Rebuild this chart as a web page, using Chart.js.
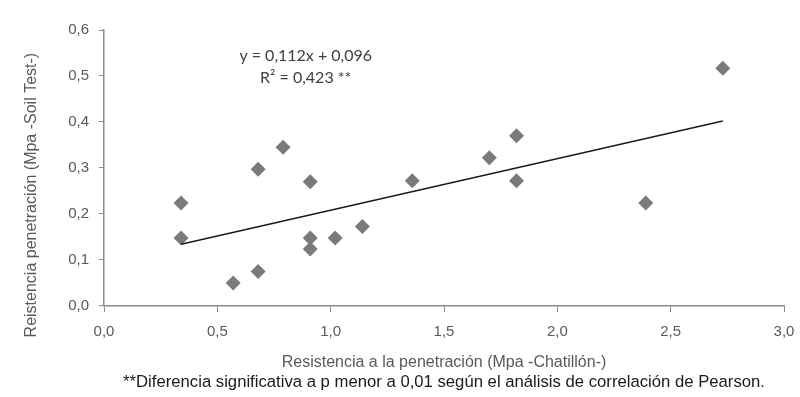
<!DOCTYPE html>
<html>
<head>
<meta charset="utf-8">
<script src="https://cdn.jsdelivr.net/npm/chart.js@4.4.1/dist/chart.umd.min.js"></script>
<style>
  html, body { margin: 0; padding: 0; background: #ffffff; }
  #wrap { width: 800px; height: 397px; }
</style>
</head>
<body>
<div id="wrap"><canvas id="chart" width="800" height="397"></canvas></div>
<script>
// values
var chatillon = [0.34, 0.34, 0.57, 0.68, 0.68, 0.79, 0.91, 0.91, 0.91, 1.02, 1.14, 1.36, 1.70, 1.82, 1.82, 2.39, 2.73];
var soilTest  = [0.224, 0.148, 0.050, 0.075, 0.297, 0.345, 0.270, 0.148, 0.124, 0.148, 0.173, 0.272, 0.322, 0.370, 0.272, 0.224, 0.517];
var trendX = [0.34, 2.73];
var trendY = [0.134, 0.402];
var equationLines = ['y = 0,112x + 0,096', 'R\u00B2 = 0,423 **'];
var xTitle = 'Resistencia a la penetración (Mpa -Chatillón-)';
var yTitle = 'Reistencia penetración (Mpa -Soil Test-)';
var footnote = '**Diferencia significativa a p menor a 0,01 según el análisis de correlación de Pearson.';

function toPoints(xs, ys) {
    return xs.map(function(x, i) { return { x: x, y: ys[i] }; });
}

function commaFormat(value) {
    return Number(value).toFixed(1).replace('.', ',');
}

var axisGray = '#8c8c8c';
var textGray = '#595959';
var arial = '"Liberation Sans", Arial, sans-serif';

// regression equation inside the plot (data units) and the y title,
// which sits a little below the middle of the plot in the original
var textPlugin = {
    id: 'extraText',
    afterDatasetsDraw: function(chart) {
        var ctx = chart.ctx;
        var xs = chart.scales.x;
        var ys = chart.scales.y;
        var cx = xs.getPixelForValue(0.89);
        ctx.save();
        ctx.fillStyle = '#404040';
        ctx.font = '16px Lato, "Open Sans", sans-serif';
        ctx.textAlign = 'center';
        ctx.textBaseline = 'middle';
        ctx.fillText(equationLines[0], cx, ys.getPixelForValue(0.543));
        ctx.fillText(equationLines[1], cx, ys.getPixelForValue(0.495));

        ctx.translate(32, ys.getPixelForValue(0.241));
        ctx.rotate(-Math.PI / 2);
        ctx.fillStyle = textGray;
        ctx.font = '16px ' + arial;
        ctx.fillText(yTitle, 0, 0);
        ctx.restore();
    }
};

var ctx = document.getElementById('chart').getContext('2d');
new Chart(ctx, {
    type: 'scatter',
    data: {
        datasets: [
            {
                label: 'Datos',
                data: toPoints(chatillon, soilTest),
                pointStyle: 'rectRot',
                pointRadius: 7.5,
                pointHoverRadius: 7.5,
                backgroundColor: '#7a7a7a',
                borderColor: '#7a7a7a',
                borderWidth: 0,
                order: 2
            },
            {
                label: 'Lineal',
                type: 'line',
                data: toPoints(trendX, trendY),
                borderColor: '#1a1a1a',
                borderWidth: 1.5,
                pointRadius: 0,
                fill: false,
                order: 1
            }
        ]
    },
    options: {
        responsive: false,
        animation: false,
        layout: { padding: { top: 30, right: 16, left: 24, bottom: 2 } },
        plugins: {
            legend: { display: false },
            tooltip: { enabled: false },
            subtitle: {
                display: true,
                text: footnote,
                position: 'bottom',
                fullSize: false,
                color: '#1a1a1a',
                font: { family: arial, size: 16.7 },
                padding: { top: 0, bottom: 3 }
            }
        },
        scales: {
            x: {
                type: 'linear',
                min: 0,
                max: 3,
                ticks: {
                    stepSize: 0.5,
                    padding: 11,
                    color: textGray,
                    font: { family: arial, size: 15 },
                    callback: commaFormat
                },
                grid: { drawOnChartArea: false, drawTicks: true, tickLength: 6, color: axisGray },
                border: { color: axisGray, width: 1.5 },
                title: {
                    display: true,
                    text: xTitle,
                    color: textGray,
                    font: { family: arial, size: 16 },
                    padding: { top: 0, bottom: 0 }
                },
                afterFit: function(scale) {
                    scale.height = 66;
                    scale.paddingLeft = 0;
                    scale.paddingRight = 0;
                }
            },
            y: {
                type: 'linear',
                min: 0,
                max: 0.6,
                ticks: {
                    stepSize: 0.1,
                    padding: 10,
                    color: textGray,
                    font: { family: arial, size: 15 },
                    callback: commaFormat
                },
                grid: { drawOnChartArea: false, drawTicks: true, tickLength: 5, color: axisGray },
                border: { color: axisGray, width: 1.5 },
                title: { display: false },
                afterFit: function(scale) { scale.width = 80; }
            }
        }
    },
    plugins: [textPlugin]
});
</script>
</body>
</html>
